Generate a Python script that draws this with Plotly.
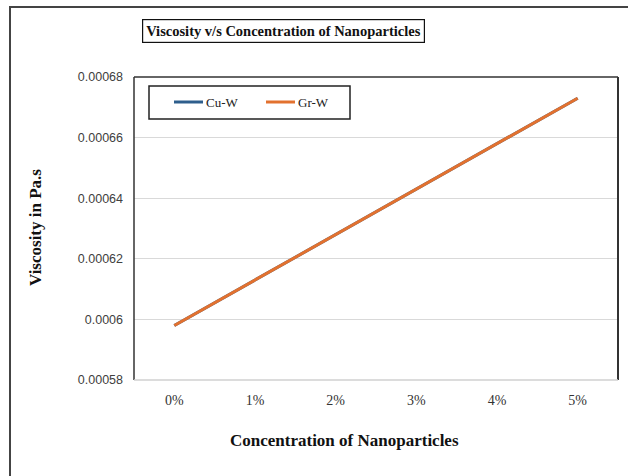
import plotly.graph_objects as go

# Nanoparticle concentration categories
concentrations = ["0%", "1%", "2%", "3%", "4%", "5%"]

# Viscosity (Pa.s) for each nanofluid
cu_w_viscosity = [0.000598, 0.000613, 0.000628, 0.000643, 0.000658, 0.000673]
gr_w_viscosity = [0.000598, 0.000613, 0.000628, 0.000643, 0.000658, 0.000673]

series_names = ["Cu-W", "Gr-W"]
series_colors = ["#2E5E8C", "#E2712F"]

y_ticks = [0.00058, 0.0006, 0.00062, 0.00064, 0.00066, 0.00068]
y_tick_text = ["0.00058", "0.0006", "0.00062", "0.00064", "0.00066", "0.00068"]

W, H = 628, 476
L, R, T, B = 134, 10, 77, 96
PW, PH = W - L - R, H - T - B


def px_x(x):
    return (x - L) / PW


def px_y(y):
    return (H - B - y) / PH


serif = "Liberation Serif, Times New Roman, serif"
sans = "Liberation Sans, Arial, sans-serif"

fig = go.Figure()
for name, values, color in zip(series_names, [cu_w_viscosity, gr_w_viscosity], series_colors):
    fig.add_trace(go.Scatter(
        x=list(range(len(concentrations))), y=values, name=name,
        mode="lines", line=dict(color=color, width=3), showlegend=False,
    ))

shapes = [
    # outer chart frame (top and left edges visible)
    dict(type="line", xref="paper", yref="paper",
         x0=px_x(9), x1=px_x(640), y0=px_y(7), y1=px_y(7),
         line=dict(color="#444444", width=2)),
    dict(type="line", xref="paper", yref="paper",
         x0=px_x(10), x1=px_x(10), y0=px_y(6), y1=px_y(490),
         line=dict(color="#444444", width=2)),
    # plot area border
    dict(type="line", xref="paper", yref="paper",
         x0=0, x1=0, y0=0, y1=1, line=dict(color="#333333", width=1.5)),
    dict(type="line", xref="paper", yref="paper",
         x0=0, x1=1, y0=1, y1=1, line=dict(color="#333333", width=1.5)),
    dict(type="line", xref="paper", yref="paper",
         x0=1, x1=1, y0=0, y1=1, line=dict(color="#333333", width=2)),
    dict(type="line", xref="paper", yref="paper",
         x0=0, x1=1, y0=0, y1=0, line=dict(color="#D0D0D0", width=1.5)),
    # legend box
    dict(type="rect", xref="paper", yref="paper",
         x0=px_x(149), x1=px_x(350), y0=px_y(119), y1=px_y(86),
         line=dict(color="#222222", width=1.5), fillcolor="white"),
]

annotations = [
    dict(text="<b>Viscosity v/s Concentration of Nanoparticles</b>",
         xref="paper", yref="paper", x=px_x(283), y=px_y(31),
         xanchor="center", yanchor="middle", showarrow=False,
         font=dict(family=serif, size=14.5, color="#111111"),
         bordercolor="#111111", borderwidth=1.2, borderpad=3, bgcolor="white"),
    dict(text="<b>Concentration of Nanoparticles</b>",
         xref="paper", yref="paper", x=px_x(344), y=px_y(441),
         xanchor="center", yanchor="middle", showarrow=False,
         font=dict(family=serif, size=17, color="#111111")),
    dict(text="<b>Viscosity in Pa.s</b>", textangle=-90,
         xref="paper", yref="paper", x=px_x(35), y=px_y(228),
         xanchor="center", yanchor="middle", showarrow=False,
         font=dict(family=serif, size=17, color="#111111")),
]

# legend entries
legend_x = [174, 266]
for lx, name, color in zip(legend_x, series_names, series_colors):
    shapes.append(dict(type="line", xref="paper", yref="paper",
                       x0=px_x(lx), x1=px_x(lx + 29), y0=px_y(102), y1=px_y(102),
                       line=dict(color=color, width=3)))
    annotations.append(dict(text=name, xref="paper", yref="paper",
                            x=px_x(lx + 30), y=px_y(102),
                            xanchor="left", yanchor="middle", showarrow=False,
                            font=dict(family=serif, size=13, color="#222222")))

fig.update_layout(
    width=W, height=H,
    margin=dict(l=L, r=R, t=T, b=B, pad=0),
    paper_bgcolor="white", plot_bgcolor="white",
    showlegend=False,
    xaxis=dict(
        range=[-0.5, 5.5], tickmode="array",
        tickvals=list(range(len(concentrations))), ticktext=concentrations,
        showgrid=False, zeroline=False, showline=False, ticks="",
        tickfont=dict(family=serif, size=14, color="#333333"),
        ticklabelstandoff=10,
    ),
    yaxis=dict(
        range=[0.00058, 0.00068], tickmode="array",
        tickvals=y_ticks, ticktext=y_tick_text,
        showgrid=True, gridcolor="#D9D9D9", gridwidth=1,
        zeroline=False, showline=False, ticks="",
        tickfont=dict(family=sans, size=12.5, color="#404040"),
        ticklabelstandoff=10,
    ),
    shapes=shapes,
    annotations=annotations,
)

fig.write_html("out.html")
